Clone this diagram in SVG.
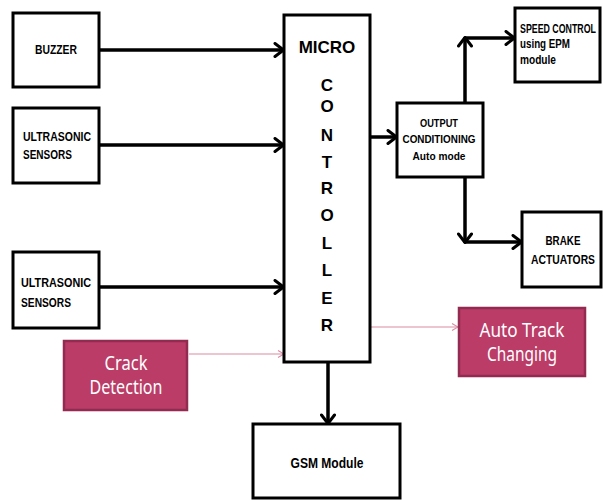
<svg xmlns="http://www.w3.org/2000/svg" width="603" height="500" viewBox="0 0 603 500">
<style>
.box{fill:#fff;stroke:#000;stroke-width:3}
.pink{fill:#ba3c67;stroke:#932b50;stroke-width:2.5}
.t{font-family:"Liberation Sans",Arial,sans-serif;font-weight:bold;fill:#000}
.pt{font-family:"Noto Sans","DejaVu Sans",sans-serif;fill:#fff;font-size:19px}
.c{stroke:#000;stroke-width:3.5;fill:none;marker-end:url(#ah)}
.pc{stroke:#d98ca3;stroke-width:1.2;fill:none;marker-end:url(#ph)}
</style>
<defs>
<marker id="ah" viewBox="0 0 12 16" refX="11" refY="8" markerWidth="12" markerHeight="16" markerUnits="userSpaceOnUse" orient="auto">
<path d="M2,1.5 L10.5,8 L2,14.5" fill="none" stroke="#000" stroke-width="3" stroke-linecap="round" stroke-linejoin="round"/>
</marker>
<marker id="ph" viewBox="0 0 10 10" refX="9" refY="5" markerWidth="10" markerHeight="10" markerUnits="userSpaceOnUse" orient="auto">
<path d="M3,1.5 L9,5 L3,8.5" fill="none" stroke="#d98ca3" stroke-width="1.2"/>
</marker>
</defs>
<rect width="603" height="500" fill="#fff"/>
<g id="connectors">
<line class="c" x1="100" y1="50" x2="284" y2="50"/>
<line class="c" x1="100" y1="145" x2="284" y2="145"/>
<line class="c" x1="100" y1="287" x2="284" y2="287"/>
<line class="c" x1="370" y1="137" x2="397" y2="137"/>
<path class="c" d="M465,103 V37"/>
<line class="c" x1="465" y1="38" x2="515" y2="38"/>
<path class="c" d="M465,177 V243"/>
<line class="c" x1="465" y1="242" x2="522" y2="242"/>
<line class="c" x1="328" y1="362" x2="328" y2="424"/>
<line class="pc" x1="189" y1="354" x2="284" y2="354"/>
<line class="pc" x1="370" y1="327" x2="458" y2="327"/>
</g>
<g id="buzzer">
<rect class="box" x="13" y="13" width="86" height="74"/>
<text class="t" x="56" y="54" font-size="13" text-anchor="middle" textLength="42" lengthAdjust="spacingAndGlyphs">BUZZER</text>
</g>
<g id="ultrasonic1">
<rect class="box" x="13" y="108" width="86" height="75"/>
<text class="t" x="23" y="141" font-size="13" textLength="68" lengthAdjust="spacingAndGlyphs">ULTRASONIC</text>
<text class="t" x="23" y="159" font-size="13" textLength="49" lengthAdjust="spacingAndGlyphs">SENSORS</text>
</g>
<g id="ultrasonic2">
<rect class="box" x="13" y="252" width="86" height="76"/>
<text class="t" x="21" y="287" font-size="13" textLength="70" lengthAdjust="spacingAndGlyphs">ULTRASONIC</text>
<text class="t" x="21" y="307" font-size="13" textLength="50" lengthAdjust="spacingAndGlyphs">SENSORS</text>
</g>
<g id="microcontroller">
<rect class="box" x="284" y="15" width="86" height="347"/>
<g class="t" font-size="17" text-anchor="middle">
<text x="327" y="53">MICRO</text>
<text x="327" y="91">C</text>
<text x="327" y="112">O</text>
<text x="327" y="141">N</text>
<text x="327" y="168">T</text>
<text x="327" y="194">R</text>
<text x="327" y="221">O</text>
<text x="327" y="249">L</text>
<text x="327" y="276">L</text>
<text x="327" y="304">E</text>
<text x="327" y="331">R</text>
</g>
</g>
<g id="output">
<rect class="box" x="397" y="103" width="86" height="74"/>
<text class="t" x="439" y="127" font-size="11" text-anchor="middle" textLength="38" lengthAdjust="spacingAndGlyphs">OUTPUT</text>
<text class="t" x="439" y="143" font-size="11" text-anchor="middle" textLength="73" lengthAdjust="spacingAndGlyphs">CONDITIONING</text>
<text class="t" x="439" y="160" font-size="11" text-anchor="middle" textLength="53" lengthAdjust="spacingAndGlyphs">Auto mode</text>
</g>
<g id="speed">
<rect class="box" x="515" y="8" width="85" height="74"/>
<text class="t" x="520" y="33" font-size="12" textLength="76" lengthAdjust="spacingAndGlyphs">SPEED CONTROL</text>
<text class="t" x="520" y="48" font-size="12" textLength="50" lengthAdjust="spacingAndGlyphs">using EPM</text>
<text class="t" x="520" y="64" font-size="12" textLength="36" lengthAdjust="spacingAndGlyphs">module</text>
</g>
<g id="brake">
<rect class="box" x="522" y="212" width="79" height="75"/>
<text class="t" x="563" y="245" font-size="13" text-anchor="middle" textLength="35" lengthAdjust="spacingAndGlyphs">BRAKE</text>
<text class="t" x="563" y="264" font-size="13" text-anchor="middle" textLength="64" lengthAdjust="spacingAndGlyphs">ACTUATORS</text>
</g>
<g id="crack">
<rect class="pink" x="64" y="341" width="123" height="69"/>
<text class="pt" x="126" y="370" text-anchor="middle" textLength="43" lengthAdjust="spacingAndGlyphs">Crack</text>
<text class="pt" x="126" y="394" text-anchor="middle" textLength="73" lengthAdjust="spacingAndGlyphs">Detection</text>
</g>
<g id="autotrack">
<rect class="pink" x="459" y="308" width="126" height="68"/>
<text class="pt" x="522" y="337" text-anchor="middle" textLength="85" lengthAdjust="spacingAndGlyphs">Auto  Track</text>
<text class="pt" x="522" y="361" text-anchor="middle" textLength="70" lengthAdjust="spacingAndGlyphs">Changing</text>
</g>
<g id="gsm">
<rect class="box" x="253" y="424" width="147" height="74"/>
<text class="t" x="327" y="468" font-size="14" text-anchor="middle" textLength="73" lengthAdjust="spacingAndGlyphs">GSM Module</text>
</g>
</svg>
